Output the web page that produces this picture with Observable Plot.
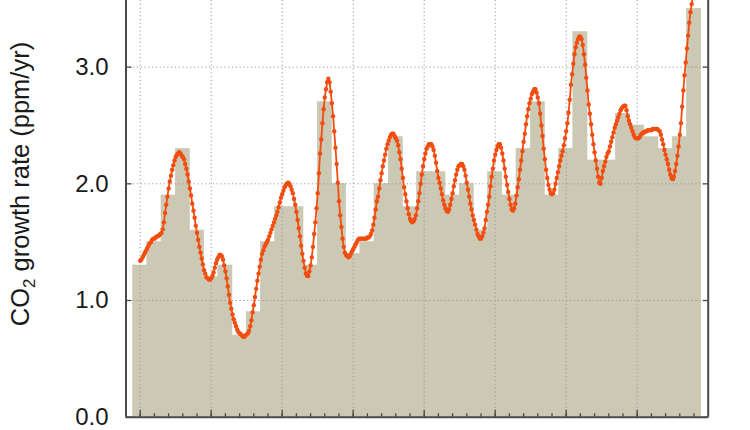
<!DOCTYPE html>
<html>
<head>
<meta charset="utf-8">
<script src="https://cdn.jsdelivr.net/npm/d3@7"></script>
<script src="https://cdn.jsdelivr.net/npm/@observablehq/plot@0.6"></script>
<style>
  html, body { margin: 0; padding: 0; background: #fff; }
  #chart svg { display: block; font-family: "Liberation Sans", Arial, sans-serif; }
</style>
</head>
<body>
<div id="chart"></div>
<script>
// ---- data ----
const years = [1985,1986,1987,1988,1989,1990,1991,1992,1993,1994,
               1995,1996,1997,1998,1999,2000,2001,2002,2003,2004,
               2005,2006,2007,2008,2009,2010,2011,2012,2013,2014,
               2015,2016,2017,2018,2019,2020,2021,2022,2023,2024];
const annualRate = [1.3,1.5,1.9,2.3,1.6,1.2,1.3,0.7,0.9,1.5,
                    1.8,1.8,1.3,2.7,2.0,1.4,1.5,2.0,2.4,1.8,
                    2.1,2.1,1.9,2.0,1.6,2.1,1.9,2.3,2.7,1.9,
                    2.3,3.3,2.2,2.2,2.6,2.5,2.4,2.3,2.4,3.5];
const majorYears = [1985,1990,1995,2000,2005,2010,2015,2020];
const yTicks = [0,1,2,3];
const monthlyStart = 1985;
const monthlyRate = [
  1.34,1.35,1.37,1.39,1.41,1.43,1.45,1.47,1.49,1.50,1.52,1.53,
  1.53,1.54,1.55,1.55,1.56,1.57,1.58,1.61,1.67,1.75,1.82,1.89,
  1.96,2.02,2.07,2.12,2.16,2.20,2.23,2.25,2.26,2.27,2.26,2.24,
  2.23,2.21,2.17,2.13,2.08,2.02,1.96,1.90,1.83,1.77,1.71,1.64,
  1.58,1.52,1.46,1.41,1.36,1.31,1.26,1.23,1.20,1.19,1.18,1.18,
  1.19,1.21,1.24,1.28,1.32,1.35,1.37,1.39,1.39,1.38,1.35,1.30,
  1.25,1.19,1.12,1.05,0.98,0.93,0.88,0.84,0.81,0.78,0.75,0.73,
  0.72,0.71,0.70,0.69,0.69,0.70,0.71,0.72,0.74,0.78,0.83,0.90,
  0.96,1.03,1.10,1.17,1.23,1.29,1.35,1.40,1.43,1.46,1.48,1.50,
  1.52,1.55,1.58,1.61,1.64,1.67,1.70,1.73,1.76,1.80,1.84,1.88,
  1.91,1.94,1.97,1.99,2.00,2.01,2.00,1.98,1.95,1.92,1.87,1.82,
  1.76,1.69,1.62,1.55,1.47,1.40,1.34,1.28,1.23,1.21,1.21,1.25,
  1.30,1.37,1.46,1.57,1.67,1.79,1.92,2.09,2.26,2.38,2.52,2.64,
  2.74,2.81,2.87,2.90,2.87,2.79,2.69,2.58,2.45,2.31,2.17,2.01,
  1.85,1.73,1.63,1.53,1.46,1.41,1.39,1.38,1.37,1.38,1.40,1.42,
  1.44,1.46,1.48,1.50,1.52,1.53,1.53,1.53,1.53,1.53,1.53,1.53,
  1.54,1.54,1.55,1.57,1.60,1.65,1.71,1.78,1.85,1.89,1.96,2.03,
  2.09,2.15,2.20,2.25,2.30,2.34,2.37,2.40,2.42,2.43,2.43,2.41,
  2.39,2.37,2.33,2.27,2.21,2.13,2.05,1.97,1.91,1.85,1.79,1.74,
  1.70,1.68,1.67,1.68,1.70,1.73,1.79,1.85,1.92,2.00,2.08,2.15,
  2.21,2.26,2.30,2.32,2.34,2.34,2.34,2.32,2.29,2.24,2.18,2.11,
  2.05,2.01,1.96,1.91,1.86,1.82,1.79,1.77,1.76,1.78,1.82,1.87,
  1.92,1.98,2.03,2.08,2.12,2.15,2.16,2.17,2.17,2.15,2.12,2.07,
  2.01,1.95,1.89,1.83,1.78,1.73,1.69,1.65,1.61,1.57,1.55,1.53,
  1.53,1.55,1.58,1.62,1.69,1.76,1.82,1.89,1.98,2.06,2.13,2.20,
  2.25,2.29,2.32,2.34,2.34,2.31,2.26,2.20,2.13,2.06,1.99,1.93,
  1.87,1.82,1.78,1.77,1.79,1.83,1.90,1.97,2.04,2.12,2.20,2.28,
  2.36,2.43,2.51,2.58,2.64,2.69,2.73,2.77,2.79,2.81,2.81,2.78,
  2.74,2.69,2.60,2.50,2.41,2.30,2.21,2.12,2.05,1.99,1.95,1.92,
  1.91,1.92,1.95,2.00,2.05,2.10,2.15,2.20,2.24,2.28,2.33,2.39,
  2.45,2.52,2.61,2.72,2.85,2.94,3.03,3.11,3.17,3.21,3.24,3.26,
  3.26,3.24,3.19,3.11,3.02,2.91,2.80,2.68,2.60,2.51,2.42,2.34,
  2.27,2.20,2.13,2.06,2.01,2.00,2.05,2.11,2.15,2.19,2.23,2.26,
  2.28,2.32,2.36,2.40,2.44,2.48,2.51,2.54,2.57,2.60,2.63,2.65,
  2.66,2.67,2.67,2.63,2.58,2.54,2.51,2.48,2.45,2.42,2.40,2.39,
  2.39,2.39,2.40,2.42,2.43,2.44,2.44,2.45,2.45,2.46,2.46,2.46,
  2.46,2.47,2.47,2.47,2.47,2.47,2.46,2.45,2.42,2.38,2.34,2.29,
  2.25,2.21,2.17,2.12,2.08,2.05,2.04,2.06,2.11,2.17,2.24,2.32,
  2.42,2.52,2.66,2.80,2.93,3.04,3.16,3.27,3.38,3.47,3.54,3.60,
  3.65,3.70,3.75
];

// ---- tables built from the arrays ----
const bars = years.map((year, i) => ({year, value: annualRate[i]}));
const monthly = monthlyRate.map((v, i) => ({t: monthlyStart + i / 12, v}));

const barColor = "#cbc8b3";
const lineColor = "#f24d10";
const axisColor = "#4a4a4a";
const gridStyle = {stroke: "#9a9a9a", strokeOpacity: 1, strokeWidth: 1, strokeDasharray: "1.2,2.6"};

const chart = Plot.plot({
  width: 750,
  height: 430,
  marginLeft: 125.5,
  marginRight: 42.3,
  marginTop: 0,
  marginBottom: 13.3,
  x: {domain: [1984, 2025]},
  y: {domain: [0, 3.571]},
  style: {fontFamily: "Liberation Sans, Arial, sans-serif", color: "#1a1a1a", background: "#fff"},
  marks: [
    Plot.rectY(bars, {x1: d => d.year - 0.5, x2: d => d.year + 0.5, y: "value", fill: barColor, stroke: barColor, strokeWidth: 0.6, inset: 0}),
    Plot.gridX(majorYears, gridStyle),
    Plot.gridY(yTicks.slice(1), gridStyle),
    Plot.axisX({ticks: years, tickSize: -3.5, tickFormat: () => "", stroke: axisColor, strokeWidth: 1.3, label: null}),
    Plot.axisX({ticks: majorYears, tickSize: -7, tickFormat: () => "", stroke: axisColor, strokeWidth: 1.3, label: null}),
    Plot.axisY({anchor: "left", ticks: yTicks, tickSize: -6, tickFormat: () => "", stroke: axisColor, strokeWidth: 1.3, label: null}),
    Plot.axisY({anchor: "right", ticks: yTicks, tickSize: -6, tickFormat: () => "", stroke: axisColor, strokeWidth: 1.3, label: null}),
    Plot.axisY({anchor: "left", ticks: yTicks, tickSize: 0, tickPadding: 17.5, tickFormat: d => d.toFixed(1), fontSize: 24, label: null}),
    Plot.ruleX([1984, 2025], {stroke: axisColor, strokeWidth: 2}),
    Plot.ruleY([0], {stroke: axisColor, strokeWidth: 2}),
    Plot.line(monthly, {x: "t", y: "v", stroke: lineColor, strokeWidth: 1.8, clip: true}),
    Plot.dot(monthly, {x: "t", y: "v", r: 2.2, fill: lineColor, stroke: "none", clip: true})
  ]
});

document.getElementById("chart").appendChild(chart);

// rotated y-axis title with a real subscript
const svg = d3.select(chart);
const title = svg.append("text")
  .attr("transform", "translate(29,184) rotate(-90)")
  .attr("text-anchor", "middle")
  .attr("font-size", 25.5)
  .attr("fill", "#1a1a1a")
  .attr("font-family", "Liberation Sans, Arial, sans-serif");
title.append("tspan").text("CO");
title.append("tspan").attr("font-size", 17).attr("dy", 6).text("2");
title.append("tspan").attr("dy", -6).text(" growth rate (ppm/yr)");
</script>
</body>
</html>
